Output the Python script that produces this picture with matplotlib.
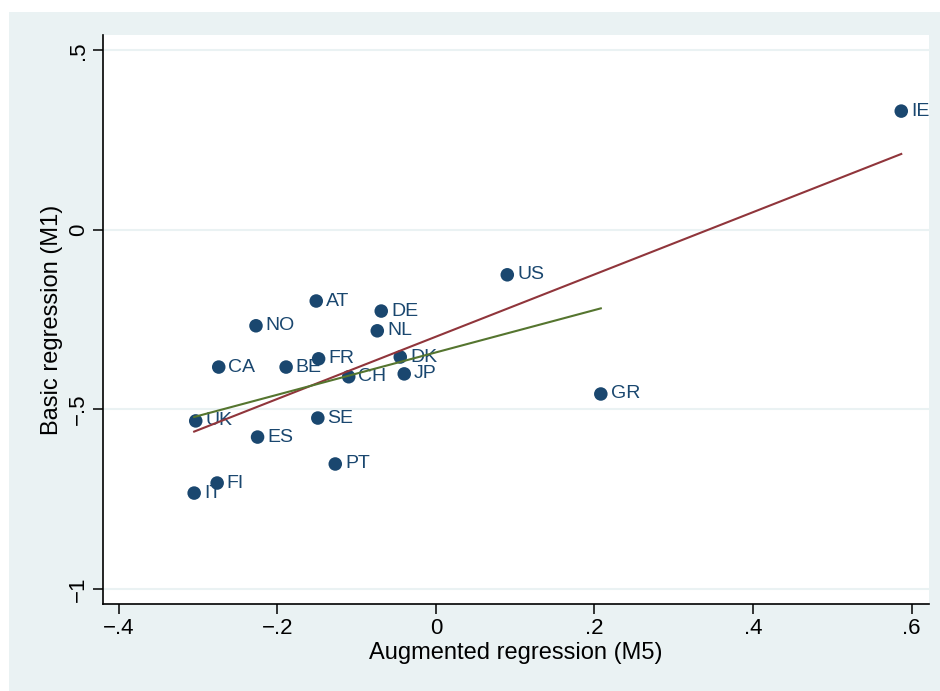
import numpy as np
import matplotlib.pyplot as plt
from matplotlib.patches import Rectangle

plt.rcParams['font.family'] = ['Liberation Sans', 'DejaVu Sans']

# Country estimates: augmented (M5) vs basic (M1) regression
countries = ['IE', 'US', 'GR', 'AT', 'DE', 'NO', 'NL', 'CA', 'BE', 'FR',
             'DK', 'JP', 'CH', 'SE', 'UK', 'ES', 'PT', 'FI', 'IT']
m5 = [0.587, 0.090, 0.208, -0.151, -0.069, -0.227, -0.074, -0.274, -0.189, -0.148,
      -0.045, -0.040, -0.110, -0.149, -0.303, -0.225, -0.127, -0.276, -0.305]
m1 = [0.331, -0.125, -0.457, -0.198, -0.226, -0.267, -0.281, -0.382, -0.382, -0.359,
      -0.354, -0.401, -0.409, -0.524, -0.532, -0.577, -0.652, -0.705, -0.733]

navy = '#1a476f'
bg = '#eaf2f3'

x = np.array(m5)
y = np.array(m1)

fig = plt.figure(figsize=(9.4, 6.91), dpi=100)
fig.patch.set_facecolor('white')
# outer graph region (Stata style), white strip on top and left
fig.patches.append(Rectangle((9 / 940, 0), 1, 1 - 12 / 691, transform=fig.transFigure,
                             facecolor=bg, edgecolor='none', zorder=-5))

ax = fig.add_axes([103 / 940, 1 - 604 / 691, (929 - 103) / 940, (604 - 35) / 691])
ax.set_facecolor('white')
ax.set_xlim(-0.420, 0.622)
ax.set_ylim(-1.042, 0.543)

yticks = [-1, -0.5, 0, 0.5]
for yt in yticks:
    ax.axhline(yt, color=bg, lw=1.5, zorder=1)

# fitted lines: all countries (red), excluding Ireland (green)
b_all = np.polyfit(x, y, 1)
xs = np.array([x.min(), x.max()])
ax.plot(xs, np.polyval(b_all, xs), color='#90353b', lw=1.5, zorder=3)

mask = np.array(countries) != 'IE'
b_ex = np.polyfit(x[mask], y[mask], 1)
xs2 = np.array([x[mask].min(), x[mask].max()])
ax.plot(xs2, np.polyval(b_ex, xs2), color='#55752f', lw=1.5, zorder=3)

ax.scatter(x, y, s=95, color=navy, zorder=2, edgecolors='none')
for c, xi, yi in zip(countries, x, y):
    ax.annotate(c, (xi, yi), xytext=(7, 0), textcoords='offset points',
                ha='left', va='center', fontsize=14, color=navy, zorder=2)

ax.spines['top'].set_visible(False)
ax.spines['right'].set_visible(False)
ax.spines['left'].set_linewidth(1.2)
ax.spines['bottom'].set_linewidth(1.2)

xticks = [-0.4, -0.2, 0, 0.2, 0.4, 0.6]
ax.set_xticks(xticks)
ax.set_xticklabels(['\u2212.4', '\u2212.2', '0', '.2', '.4', '.6'], fontsize=16)
ax.set_yticks(yticks)
ax.set_yticklabels(['\u22121', '\u2212.5', '0', '.5'], fontsize=16, rotation=90, va='center')
ax.tick_params(length=7, width=1.1, pad=3)

ax.set_xlabel('Augmented regression (M5)', fontsize=17, labelpad=2)
ax.set_ylabel('Basic regression (M1)', fontsize=17, labelpad=4)

fig.savefig('out.png', dpi=100, facecolor=fig.get_facecolor())
